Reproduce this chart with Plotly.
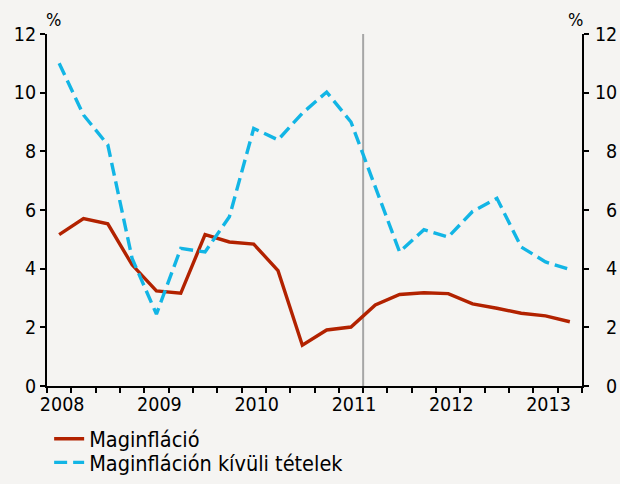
import plotly.graph_objects as go

quarters = [f"{y} Q{q}" for y in range(2008, 2014) for q in range(1, 5)][:22]
core_inflation = [5.16, 5.71, 5.53, 4.13, 3.24, 3.16, 5.16, 4.91, 4.84, 3.93, 1.39,
                  1.91, 2.01, 2.76, 3.12, 3.18, 3.15, 2.80, 2.65, 2.48, 2.39, 2.19]
non_core_items = [11.0, 9.24, 8.22, 4.35, 2.45, 4.69, 4.57, 5.77, 8.78, 8.39, 9.30,
                  10.02, 9.0, 6.8, 4.57, 5.33, 5.08, 5.95, 6.4, 4.74, 4.23, 3.97]
year_labels = ["2008", "2009", "2010", "2011", "2012", "2013"]
y_ticks = [0, 2, 4, 6, 8, 10, 12]
series_names = ["Maginfláció", "Maginfláción kívüli tételek"]
divider_after = "2011 Q1"

x = list(range(len(quarters)))
year_pos = [quarters.index(f"{y} Q1") for y in year_labels]
divider_x = quarters.index(divider_after) + 0.5
right_ticktext = [("\u2007" if v < 10 else "") + str(v) for v in y_ticks]

FONT = "DejaVu Sans Condensed, Roboto, sans-serif"
BG = "#f5f4f2"

fig = go.Figure()
fig.add_trace(go.Scatter(x=x, y=core_inflation, name=series_names[0], mode="lines",
                         line=dict(color="#b22200", width=3.4), legend="legend"))
fig.add_trace(go.Scatter(x=x, y=non_core_items, name=series_names[1], mode="lines",
                         line=dict(color="#12b5e5", width=3.4, dash="13px,6px"),
                         legend="legend2"))

fig.add_shape(type="line", x0=divider_x, x1=divider_x, y0=0, y1=12, xref="x", yref="y",
              line=dict(color="#a6a6a6", width=2), layer="below")

axis_font = dict(family=FONT, size=19.5, color="black")
legend_font = dict(family=FONT, size=21.5, color="black")
common_legend = dict(xanchor="left", yanchor="middle", bgcolor="rgba(0,0,0,0)",
                     font=legend_font, itemwidth=30, borderwidth=0)
fig.update_layout(
    width=620, height=484,
    margin=dict(l=47, r=38, t=34, b=98, pad=0, autoexpand=False),
    paper_bgcolor=BG, plot_bgcolor=BG,
    font=dict(family=FONT, size=19.5, color="black"),
    showlegend=True,
    legend=dict(x=0.004, y=-0.150, **common_legend),
    legend2=dict(x=0.004, y=-0.217, **common_legend),
    xaxis=dict(range=[-0.5, len(quarters) - 0.5], tickmode="array", tickvals=year_pos,
               ticktext=year_labels, ticks="outside", ticklen=0, showgrid=False,
               zeroline=False, showline=True, linecolor="black", linewidth=2,
               tickfont=axis_font, ticklabelshift=3,
               minor=dict(tickmode="array", tickvals=[i - 0.5 for i in range(len(quarters) + 1)],
                          ticks="outside", ticklen=5, tickwidth=2, tickcolor="black",
                          showgrid=False)),
    yaxis=dict(range=[0, 12], tickvals=y_ticks, ticks="outside", ticklen=5,
               tickwidth=2, tickcolor="black", showgrid=False, zeroline=False,
               showline=True, linecolor="black", linewidth=2, tickfont=axis_font),
    yaxis2=dict(range=[0, 12], tickvals=y_ticks, ticktext=right_ticktext, overlaying="y",
                side="right", ticks="outside", ticklen=5, tickwidth=2, tickcolor="black",
                showgrid=False, zeroline=False, showline=True, linecolor="black", linewidth=2,
                tickfont=axis_font, anchor="x", ticklabelstandoff=2),
)
fig.add_trace(go.Scatter(x=[None], y=[None], yaxis="y2", showlegend=False, hoverinfo="skip"))

fig.add_annotation(text="%", xref="paper", yref="paper", x=0.012, y=1.04, showarrow=False,
                   xanchor="center", yanchor="middle", font=dict(family=FONT, size=18, color="black"))
fig.add_annotation(text="%", xref="paper", yref="paper", x=0.988, y=1.04, showarrow=False,
                   xanchor="center", yanchor="middle", font=dict(family=FONT, size=18, color="black"))

fig.write_html("out.html", config={"displayModeBar": False},
               post_script="document.body.style.margin='0';document.body.style.background='%s';" % BG)
